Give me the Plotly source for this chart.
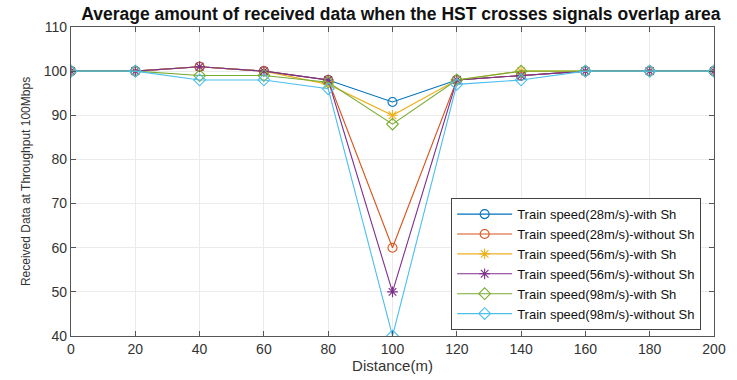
import plotly.graph_objects as go

distance = [0, 20, 40, 60, 80, 100, 120, 140, 160, 180, 200]
s28_with = [100, 100, 101, 100, 98, 93, 98, 99, 100, 100, 100]
s28_without = [100, 100, 101, 100, 98, 60, 98, 99, 100, 100, 100]
s56_with = [100, 100, 101, 100, 97, 90, 98, 100, 100, 100, 100]
s56_without = [100, 100, 101, 100, 98, 50, 98, 99, 100, 100, 100]
s98_with = [100, 100, 99, 99, 97.5, 88, 98, 100, 100, 100, 100]
s98_without = [100, 100, 98, 98, 96, 40, 97, 98, 100, 100, 100]
x_ticks = [0, 20, 40, 60, 80, 100, 120, 140, 160, 180, 200]

names = ["Train speed(28m/s)-with Sh", "Train speed(28m/s)-without Sh",
         "Train speed(56m/s)-with Sh", "Train speed(56m/s)-without Sh",
         "Train speed(98m/s)-with Sh", "Train speed(98m/s)-without Sh"]
series = [s28_with, s28_without, s56_with, s56_without, s98_with, s98_without]
colors = ["#0072BD", "#D95319", "#EDB120", "#7E2F8E", "#77AC30", "#4DBEEE"]
symbols = ["circle-open", "circle-open", "asterisk-open", "asterisk-open", "diamond-open", "diamond-open"]

FONT = "Liberation Sans, Arial"

fig = go.Figure()
for n, s, c, sym in zip(names, series, colors, symbols):
    fig.add_trace(go.Scatter(x=distance, y=s, name=n, mode="lines+markers",
                             line=dict(color=c, width=1.1),
                             marker=dict(symbol=sym, size=9, color=c, line=dict(color=c, width=1.1))))

axis_common = dict(showline=True, linecolor="#555555", linewidth=1.2, mirror="ticks",
                   ticks="inside", ticklen=5, tickcolor="#555555",
                   showgrid=True, gridcolor="#ebebeb", gridwidth=1, zeroline=False,
                   tickfont=dict(family=FONT, size=14, color="#333333"))

fig.update_layout(
    width=737, height=380,
    margin=dict(l=71, r=11, t=27, b=41),
    paper_bgcolor="white", plot_bgcolor="white",
    title=dict(text="<b>Average amount of received data when the HST crosses signals overlap area</b>",
               x=0.544, xanchor="center", y=0.98, yanchor="top",
               font=dict(family=FONT, size=17.5, color="#111111")),
    xaxis=dict(range=[0, 200], tickmode="array", tickvals=x_ticks,
               ticktext=[str(v) for v in x_ticks],
               title=dict(text="Distance(m)", font=dict(family=FONT, size=15, color="#333333"), standoff=2),
               **axis_common),
    yaxis=dict(range=[40, 110], dtick=10, tick0=40,
               title=dict(text="Received Data at Throughput 100Mbps", font=dict(family=FONT, size=12, color="#333333"), standoff=10),
               **axis_common),
    legend=dict(x=0.98, y=0.019, xanchor="right", yanchor="bottom",
                bgcolor="white", bordercolor="#444444", borderwidth=1,
                font=dict(family=FONT, size=13, color="#111111"),
                tracegroupgap=0, itemwidth=55),
    showlegend=True,
)

fig.write_html("out.html")
